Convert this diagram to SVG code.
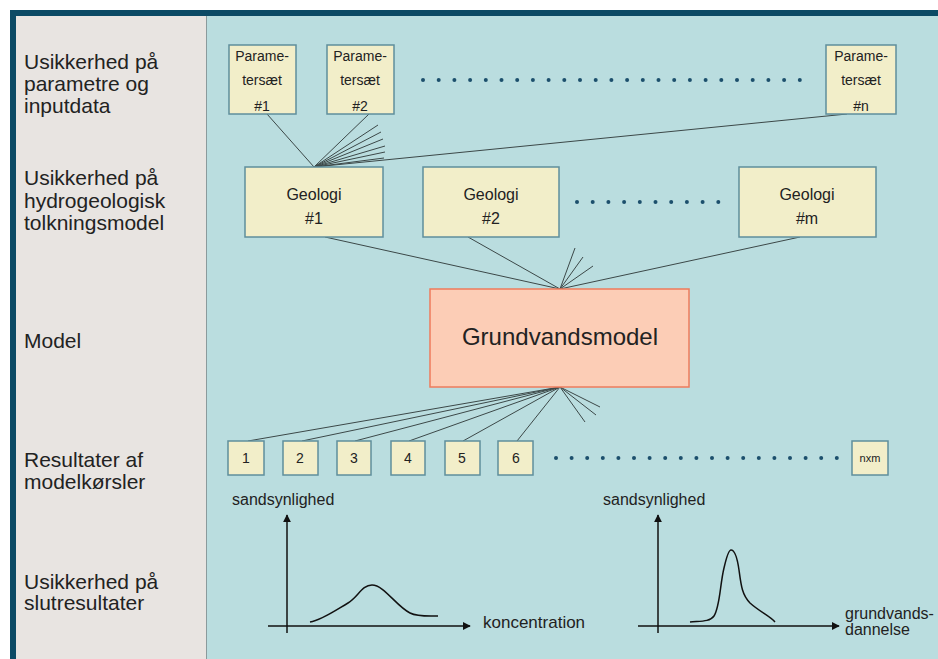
<svg xmlns="http://www.w3.org/2000/svg" width="938" height="659" viewBox="0 0 938 659">
<style>
text{font-family:"Liberation Sans",Arial,sans-serif;fill:#222}
.lbl{font-size:21px}
.box{fill:#f2eec9;stroke:#5f8e9c;stroke-width:1.5}
.pt{font-size:14px;text-anchor:middle}
.gt{font-size:16px;text-anchor:middle}
.rt{font-size:14px;text-anchor:middle}
.ln{stroke:#3c4848;stroke-width:1;fill:none}
.ax{stroke:#111;stroke-width:1.5;fill:none}
.dot{fill:#1c4f6c}
</style>
<defs>
<marker id="ah" viewBox="0 0 10 10" refX="9" refY="5" markerWidth="8" markerHeight="8" markerUnits="userSpaceOnUse" orient="auto"><path d="M0,0 L10,5 L0,10 z" fill="#111"/></marker>
</defs>
<rect x="0" y="0" width="938" height="659" fill="#ffffff"/>
<rect x="10" y="10" width="928" height="649" fill="#0c4a65"/>
<rect x="16" y="16" width="191" height="643" fill="#e8e4e1"/>
<rect x="207" y="16" width="731" height="643" fill="#badddf"/>
<line x1="206.5" y1="16" x2="206.5" y2="659" stroke="#8a9a9c" stroke-width="1"/>

<g id="labels">
<text class="lbl" x="24" y="69">Usikkerhed på</text>
<text class="lbl" x="24" y="91">parametre og</text>
<text class="lbl" x="24" y="113">inputdata</text>
<text class="lbl" x="24" y="185">Usikkerhed på</text>
<text class="lbl" x="24" y="208">hydrogeologisk</text>
<text class="lbl" x="24" y="230">tolkningsmodel</text>
<text class="lbl" x="24" y="348">Model</text>
<text class="lbl" x="24" y="467">Resultater af</text>
<text class="lbl" x="24" y="489">modelkørsler</text>
<text class="lbl" x="24" y="589">Usikkerhed på</text>
<text class="lbl" x="24" y="610">slutresultater</text>
</g>

<g id="connectors">
<line class="ln" x1="267" y1="114" x2="314" y2="167"/>
<line class="ln" x1="369" y1="114" x2="314" y2="167"/>
<line class="ln" x1="378" y1="125" x2="314" y2="167"/>
<line class="ln" x1="381" y1="132" x2="314" y2="167"/>
<line class="ln" x1="383" y1="139" x2="314" y2="167"/>
<line class="ln" x1="385" y1="146" x2="314" y2="167"/>
<line class="ln" x1="385" y1="152" x2="314" y2="167"/>
<line class="ln" x1="384" y1="158" x2="314" y2="167"/>
<line class="ln" x1="847" y1="114" x2="314" y2="167"/>

<line class="ln" x1="325" y1="237" x2="560" y2="289"/>
<line class="ln" x1="468" y1="237" x2="560" y2="289"/>
<line class="ln" x1="800" y1="237" x2="560" y2="289"/>
<line class="ln" x1="575" y1="248" x2="560" y2="289"/>
<line class="ln" x1="583" y1="257" x2="560" y2="289"/>
<line class="ln" x1="593" y1="266" x2="560" y2="289"/>

<line class="ln" x1="248" y1="441" x2="560" y2="387"/>
<line class="ln" x1="302" y1="441" x2="560" y2="387"/>
<line class="ln" x1="355" y1="441" x2="560" y2="387"/>
<line class="ln" x1="409" y1="441" x2="560" y2="387"/>
<line class="ln" x1="463" y1="441" x2="560" y2="387"/>
<line class="ln" x1="517" y1="441" x2="560" y2="387"/>
<line class="ln" x1="585" y1="422" x2="560" y2="387"/>
<line class="ln" x1="596" y1="415" x2="560" y2="387"/>
<line class="ln" x1="600" y1="407" x2="560" y2="387"/>
</g>

<g id="param1"><rect class="box" x="229" y="45" width="67" height="69"/>
<text class="pt" x="262" y="61">Parame-</text><text class="pt" x="262" y="85">tersæt</text><text class="pt" x="262" y="111">#1</text></g>
<g id="param2"><rect class="box" x="327" y="45" width="67" height="69"/>
<text class="pt" x="360" y="61">Parame-</text><text class="pt" x="360" y="85">tersæt</text><text class="pt" x="360" y="111">#2</text></g>
<g id="paramn"><rect class="box" x="826" y="45" width="70" height="69"/>
<text class="pt" x="861" y="61">Parame-</text><text class="pt" x="861" y="85">tersæt</text><text class="pt" x="861" y="111">#n</text></g>

<g id="dots1" class="dot">
<circle cx="423" cy="80" r="2"/><circle cx="438.7" cy="80" r="2"/><circle cx="454.4" cy="80" r="2"/><circle cx="470.1" cy="80" r="2"/><circle cx="485.8" cy="80" r="2"/><circle cx="501.5" cy="80" r="2"/><circle cx="517.2" cy="80" r="2"/><circle cx="532.9" cy="80" r="2"/><circle cx="548.6" cy="80" r="2"/><circle cx="564.3" cy="80" r="2"/><circle cx="580" cy="80" r="2"/><circle cx="595.7" cy="80" r="2"/><circle cx="611.4" cy="80" r="2"/><circle cx="627.1" cy="80" r="2"/><circle cx="642.8" cy="80" r="2"/><circle cx="658.5" cy="80" r="2"/><circle cx="674.2" cy="80" r="2"/><circle cx="689.9" cy="80" r="2"/><circle cx="705.6" cy="80" r="2"/><circle cx="721.3" cy="80" r="2"/><circle cx="737" cy="80" r="2"/><circle cx="752.7" cy="80" r="2"/><circle cx="768.4" cy="80" r="2"/><circle cx="784.1" cy="80" r="2"/><circle cx="799.8" cy="80" r="2"/>
</g>

<g id="geo1"><rect class="box" x="245" y="167" width="138" height="70"/>
<text class="gt" x="314" y="200">Geologi</text><text class="gt" x="314" y="224">#1</text></g>
<g id="geo2"><rect class="box" x="423" y="167" width="136" height="70"/>
<text class="gt" x="491" y="200">Geologi</text><text class="gt" x="491" y="224">#2</text></g>
<g id="geom"><rect class="box" x="739" y="167" width="137" height="70"/>
<text class="gt" x="807" y="200">Geologi</text><text class="gt" x="807" y="224">#m</text></g>

<g id="dots2" class="dot">
<circle cx="577" cy="202" r="2"/><circle cx="592.7" cy="202" r="2"/><circle cx="608.4" cy="202" r="2"/><circle cx="624.1" cy="202" r="2"/><circle cx="639.8" cy="202" r="2"/><circle cx="655.5" cy="202" r="2"/><circle cx="671.2" cy="202" r="2"/><circle cx="686.9" cy="202" r="2"/><circle cx="702.6" cy="202" r="2"/><circle cx="718.3" cy="202" r="2"/>
</g>

<g id="model"><rect x="430" y="289" width="259" height="98" fill="#fccdb6" stroke="#ee7b5c" stroke-width="1.5"/>
<text x="560" y="345" font-size="24" text-anchor="middle">Grundvandsmodel</text></g>

<g id="r1"><rect class="box" x="228" y="441" width="36" height="34"/><text class="rt" x="246" y="463">1</text></g>
<g id="r2"><rect class="box" x="283" y="441" width="35" height="34"/><text class="rt" x="300" y="463">2</text></g>
<g id="r3"><rect class="box" x="337" y="441" width="34" height="34"/><text class="rt" x="354" y="463">3</text></g>
<g id="r4"><rect class="box" x="391" y="441" width="34" height="34"/><text class="rt" x="408" y="463">4</text></g>
<g id="r5"><rect class="box" x="445" y="441" width="35" height="34"/><text class="rt" x="462" y="463">5</text></g>
<g id="r6"><rect class="box" x="498" y="441" width="35" height="34"/><text class="rt" x="516" y="463">6</text></g>
<g id="rnm"><rect class="box" x="852" y="441" width="36" height="34"/><text x="870" y="462" font-size="11" text-anchor="middle">nxm</text></g>

<g id="dots3" class="dot">
<circle cx="556" cy="458" r="2"/><circle cx="571.6" cy="458" r="2"/><circle cx="587.2" cy="458" r="2"/><circle cx="602.8" cy="458" r="2"/><circle cx="618.4" cy="458" r="2"/><circle cx="634" cy="458" r="2"/><circle cx="649.6" cy="458" r="2"/><circle cx="665.2" cy="458" r="2"/><circle cx="680.8" cy="458" r="2"/><circle cx="696.4" cy="458" r="2"/><circle cx="712" cy="458" r="2"/><circle cx="727.6" cy="458" r="2"/><circle cx="743.2" cy="458" r="2"/><circle cx="758.8" cy="458" r="2"/><circle cx="774.4" cy="458" r="2"/><circle cx="790" cy="458" r="2"/><circle cx="805.6" cy="458" r="2"/><circle cx="821.2" cy="458" r="2"/><circle cx="836.8" cy="458" r="2"/>
</g>

<g id="graph1">
<line class="ax" x1="287" y1="633" x2="287" y2="515" marker-end="url(#ah)"/>
<line class="ax" x1="268" y1="626" x2="470" y2="626" marker-end="url(#ah)"/>
<path class="ax" d="M310,622 C322,620 336,610 348,603 C358,597 362,585 372,585 C384,585 396,606 410,613 C418,617 430,616 438,616"/>
<text x="232" y="505" font-size="16">sandsynlighed</text>
<text x="483" y="628" font-size="17">koncentration</text>
</g>

<g id="graph2">
<line class="ax" x1="658" y1="633" x2="658" y2="515" marker-end="url(#ah)"/>
<line class="ax" x1="638" y1="626" x2="839" y2="626" marker-end="url(#ah)"/>
<path class="ax" d="M690,622 C700,621 710,622 714,616 C720,607 720,584 724,568 C727,555 729,550 731,550 C734,550 737,556 739,570 C741,585 742,595 750,603 C760,612 770,616 775,622"/>
<text x="603" y="505" font-size="16">sandsynlighed</text>
<text x="845" y="619" font-size="16">grundvands-</text>
<text x="845" y="635" font-size="16">dannelse</text>
</g>
</svg>
